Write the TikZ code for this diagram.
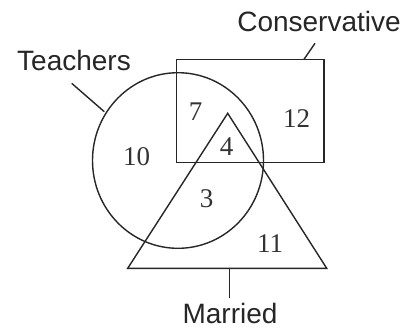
\documentclass[tikz,border=0pt]{standalone}
\usepackage{fontspec}
\setmainfont{Liberation Serif}
\setsansfont{Liberation Sans}
\begin{document}
\begin{tikzpicture}[x=1pt,y=-1pt,
  shape line/.style={line width=1.4pt, black!85},
  setlabel/.style={font=\sffamily\fontsize{28}{30}\selectfont, text=black!85, inner sep=0pt},
  count/.style={font=\rmfamily\fontsize{27}{29}\selectfont, text=black!80, inner sep=0pt}]
\useasboundingbox (0,0) rectangle (411,333);
% shapes
\draw[shape line] (176.7,59.3) rectangle (324,162.7);
\draw[shape line] (178,160.5) ellipse [x radius=85.5, y radius=87.8];
\draw[shape line, line join=miter] (227.7,113.3) -- (326.7,268.3) -- (127.7,268.3) -- cycle;
% labels
\node[setlabel, anchor=base] (teach) at (74,70) {Teachers};
\node[setlabel, anchor=base] (cons) at (319,31) {Conservative};
\node[setlabel, anchor=base] (marr) at (230,323) {Married};
% leader end points
\coordinate (tA) at (71.7,83.3);
\coordinate (tB) at (104.3,111.7);
\coordinate (cA) at (315,43.3);
\coordinate (cB) at (304,59.3);
\coordinate (mA) at (229.3,297.7);
\coordinate (mB) at (229.3,268.3);
\draw[shape line] (tA) -- (tB);
\draw[shape line] (cA) -- (cB);
\draw[shape line] (mA) -- (mB);
% counts
\node[count] (n10) at (136.7,156.7) {10};
\node[count] (n7) at (195.7,111.7) {7};
\node[count] (n12) at (296.7,118.3) {12};
\node[count] (n4) at (226.7,146.7) {4};
\node[count] (n3) at (206.7,198.3) {3};
\node[count] (n11) at (270,243.3) {11};
\end{tikzpicture}
\end{document}
